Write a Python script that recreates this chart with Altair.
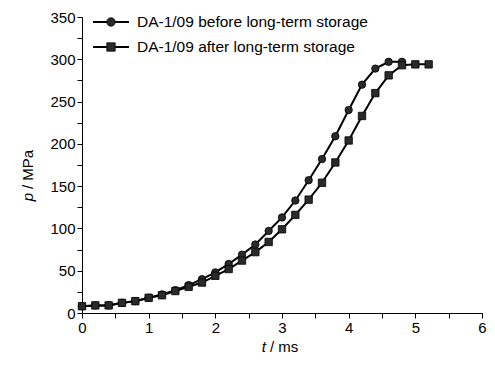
import altair as alt
import pandas as pd

# time points (ms)
t_before = [0.0, 0.2, 0.4, 0.6, 0.8, 1.0, 1.2, 1.4, 1.6, 1.8, 2.0, 2.2, 2.4,
            2.6, 2.8, 3.0, 3.2, 3.4, 3.6, 3.8, 4.0, 4.2, 4.4, 4.6, 4.8]
p_before = [8, 9, 9, 12, 14, 18, 22, 27, 33, 40, 48, 58, 69,
            81, 97, 113, 133, 157, 182, 209, 240, 270, 289, 297, 297]

t_after = [0.0, 0.2, 0.4, 0.6, 0.8, 1.0, 1.2, 1.4, 1.6, 1.8, 2.0, 2.2, 2.4,
           2.6, 2.8, 3.0, 3.2, 3.4, 3.6, 3.8, 4.0, 4.2, 4.4, 4.6, 4.8, 5.0, 5.2]
p_after = [8, 9, 9, 12, 14, 18, 21, 26, 31, 36, 44, 52, 62,
           72, 84, 99, 116, 134, 154, 178, 204, 233, 260, 281, 293, 294, 294]

series_labels = ["DA-1/09 before long-term storage", "DA-1/09 after long-term storage"]

x_ticks = [i * 0.5 for i in range(13)]
y_ticks = [i * 25 for i in range(15)]

FONT = "Liberation Sans, Arial, sans-serif"
FS = 15

df_b = pd.DataFrame({"t": t_before, "p": p_before, "s": series_labels[0]})
df_a = pd.DataFrame({"t": t_after, "p": p_after, "s": series_labels[1]})

xs = alt.Scale(domain=[0, 6], nice=False, zero=False)
ys = alt.Scale(domain=[0, 350], nice=False)

xax = alt.Axis(values=x_ticks,
               labelExpr="datum.value % 1 == 0 ? format(datum.value, 'd') : ''",
               title=None, grid=False, tickSize=5, labelPadding=2,
               domainColor="black", tickColor="black", labelColor="black",
               labelFont=FONT, labelFontSize=FS, labelFlush=False)
yax = alt.Axis(values=y_ticks,
               labelExpr="datum.value % 50 == 0 ? format(datum.value, 'd') : ''",
               title=None, grid=False, tickSize=5, labelPadding=2,
               domainColor="black", tickColor="black", labelColor="black",
               labelFont=FONT, labelFontSize=FS)

def series(df, shape):
    base = alt.Chart(df).encode(
        x=alt.X("t:Q", scale=xs, axis=xax),
        y=alt.Y("p:Q", scale=ys, axis=yax),
    )
    line = base.mark_line(color="black", strokeWidth=2)
    pts = base.mark_point(shape=shape, filled=True, size=55, color="#2a2a2a",
                          stroke="black", strokeWidth=0.8, opacity=1)
    return line + pts

def legend_row(i, shape):
    d = pd.DataFrame({"label": [series_labels[i]]})
    y = 5 + i * 25
    rule = alt.Chart(d).mark_rule(color="black", strokeWidth=2).encode(
        x=alt.value(11), x2=alt.value(47), y=alt.value(y))
    pt = alt.Chart(d).mark_point(shape=shape, filled=True, size=70, color="#2a2a2a",
                                 stroke="black", strokeWidth=0.8, opacity=1).encode(
        x=alt.value(29), y=alt.value(y))
    txt = alt.Chart(d).mark_text(align="left", baseline="middle", font=FONT,
                                 fontSize=15.5, color="black").encode(
        x=alt.value(55), y=alt.value(y), text="label:N")
    return rule + pt + txt

title_df = pd.DataFrame({"a": [0]})
xt1 = alt.Chart(title_df).mark_text(text="t", fontStyle="italic", align="right",
                                    baseline="middle", font=FONT, fontSize=FS, color="black").encode(
    x=alt.value(184), y=alt.value(330))
xt2 = alt.Chart(title_df).mark_text(text="/ ms", align="left",
                                    baseline="middle", font=FONT, fontSize=FS, color="black").encode(
    x=alt.value(188), y=alt.value(330))
yt1 = alt.Chart(title_df).mark_text(text="p", fontStyle="italic", align="right", angle=270,
                                    baseline="middle", font=FONT, fontSize=FS, color="black").encode(
    x=alt.value(-54), y=alt.value(176))
yt2 = alt.Chart(title_df).mark_text(text="/ MPa", align="left", angle=270,
                                    baseline="middle", font=FONT, fontSize=FS, color="black").encode(
    x=alt.value(-54), y=alt.value(172))

chart = alt.layer(
    series(df_b, "circle"),
    series(df_a, "square"),
    legend_row(0, "circle"),
    legend_row(1, "square"),
    xt1, xt2, yt1, yt2,
).properties(
    width=400, height=296,
    padding={"left": 74, "top": 9, "right": 5, "bottom": 44},
    autosize=alt.AutoSizeParams(type="none"),
    background="white",
).configure_view(stroke=None)

chart.save("out.html", embed_options={"renderer": "svg", "actions": False})
